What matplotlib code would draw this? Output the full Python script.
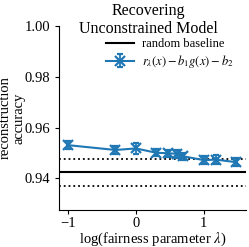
import numpy as np
import matplotlib
matplotlib.use("Agg")
import matplotlib.pyplot as plt

# data
lam = [0.1, 0.5, 1, 2, 3, 4, 5, 10, 15, 30]
acc = [0.9531, 0.9512, 0.9518, 0.9501, 0.9499, 0.9497, 0.9487, 0.9472, 0.9474, 0.9464]
acc_err = [0.0015, 0.0016, 0.0021, 0.0014, 0.0014, 0.0015, 0.0015, 0.0015, 0.0017, 0.0015]
baseline = 0.9425
baseline_std = 0.0053

plt.rcParams['font.family'] = ['Liberation Serif', 'DejaVu Serif']
plt.rcParams['mathtext.fontset'] = 'stix'

fig = plt.figure(figsize=(2.49, 2.47), dpi=100)
ax = fig.add_axes([0.237, 0.150, 0.751, 0.745])

x = np.log10(lam)
ax.axhline(baseline, color='black', lw=1.5, label='random baseline')
ax.axhline(baseline + baseline_std, color='black', lw=1.3, ls=':')
ax.axhline(baseline - baseline_std, color='black', lw=1.3, ls=':')
ax.errorbar(x, acc, yerr=acc_err, color='#1f77b4', marker='x', ms=7, mew=1.6,
            lw=1.5, capsize=2, elinewidth=1.3,
            label=r'$r_\lambda(x) - b_1 g(x) - b_2$')

ax.set_xlim(-1.13, 1.62)
ax.set_ylim(0.9276, 1.0)
ax.set_xticks([-1, 0, 1])
ax.set_yticks([0.94, 0.96, 0.98, 1.00])
ax.set_yticklabels(['0.94', '0.96', '0.98', '1.00'])
ax.tick_params(labelsize=10.5, length=3)
ax.tick_params(axis='x', pad=2)
for s in ['top', 'right']:
    ax.spines[s].set_visible(False)

ax.set_xlabel(r'log(fairness parameter $\lambda$)', fontsize=10.5)
ax.xaxis.set_label_coords(0.5, -0.113)
ax.set_ylabel('reconstruction\naccuracy', fontsize=10.5, linespacing=1.05)
ax.yaxis.set_label_coords(-0.18, 0.5)
fig.text(148 / 249, 1 - 3 / 247, 'Recovering\nUnconstrained Model', ha='center', va='top',
         fontsize=11.5, linespacing=1.2)
ax.legend(loc='upper right', fontsize=9, frameon=False, handlelength=2.3,
          borderaxespad=0.6, labelspacing=0.2, handletextpad=0.6)

fig.savefig('out.png', dpi=100)
